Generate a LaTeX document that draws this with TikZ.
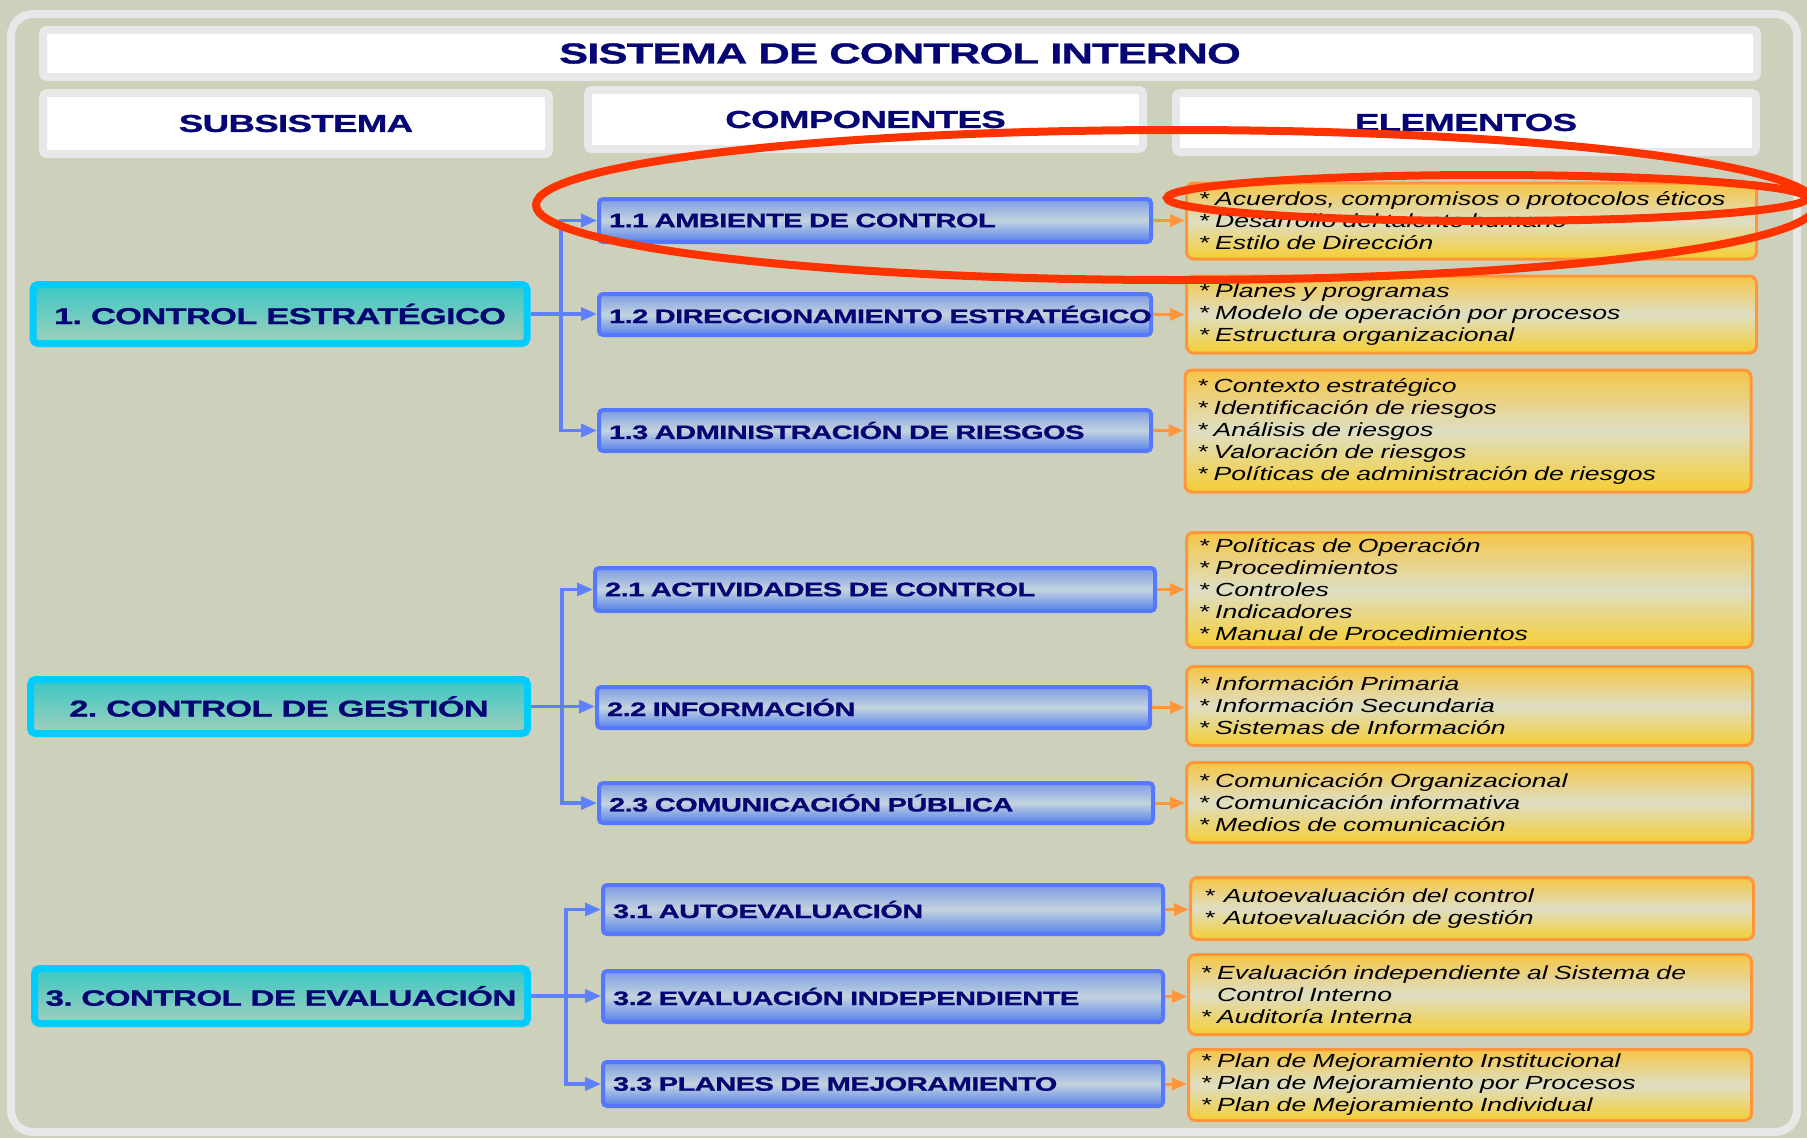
\documentclass[tikz,border=0pt]{standalone}
\usepackage{fontspec}
\setmainfont{Liberation Sans}
\newfontfamily\hdfont[FakeStretch=1.5, LetterSpace=-3, FakeBold=1]{Liberation Sans}
\newfontfamily\elfont[FakeStretch=1.4]{Liberation Sans}
\usetikzlibrary{arrows.meta}
\frenchspacing

\definecolor{bgolive}{RGB}{205,209,187}
\definecolor{framegrey}{RGB}{232,232,232}
\definecolor{navy}{RGB}{5,5,115}
\definecolor{subcyan}{RGB}{0,204,255}
\definecolor{subtop}{RGB}{58,200,196}
\definecolor{subbot}{RGB}{160,206,188}
\definecolor{compblue}{RGB}{85,120,255}
\definecolor{comptop}{RGB}{125,155,228}
\definecolor{compmid}{RGB}{195,212,222}
\definecolor{compbot}{RGB}{85,128,236}
\definecolor{elorange}{RGB}{255,150,60}
\definecolor{eltop}{RGB}{245,198,70}
\definecolor{elmid}{RGB}{222,222,196}
\definecolor{elbot}{RGB}{246,206,50}
\definecolor{linkblue}{RGB}{95,128,255}
\definecolor{ringred}{RGB}{255,51,0}

\begin{document}
\begin{tikzpicture}[x=1pt, y=-1pt,
    hdbox/.style={draw=framegrey, line width=8pt, fill=white, rounded corners=4pt, text=navy, inner sep=0pt, font=\hdfont\bfseries\fontsize{24.5}{30}\selectfont},
    subbox/.style={draw=subcyan, line width=7pt, rounded corners=5pt, top color=subtop, bottom color=subbot, text=navy, inner sep=0pt, font=\hdfont\bfseries\fontsize{23}{28}\selectfont},
    compbox/.style={draw=compblue, line width=4pt, rounded corners=4pt, top color=comptop, bottom color=compbot, middle color=compmid, text=navy, align=left, inner xsep=10pt, inner ysep=0pt, font=\hdfont\bfseries\fontsize{19.4}{22}\selectfont},
    elbox/.style={draw=elorange, line width=3pt, rounded corners=7pt, top color=eltop, bottom color=elbot, middle color=elmid, align=left, inner xsep=12pt, inner ysep=0pt, font=\elfont\itshape\fontsize{19}{22}\selectfont},
    barr/.style={draw=linkblue, line width=3.5pt, -{Triangle[length=16pt, width=13pt]}},
    oarr/.style={draw=elorange, line width=3pt, -{Triangle[length=15pt, width=12pt]}},
    redring/.style={draw=ringred, line width=8pt}
  ]
    \useasboundingbox (0,0) rectangle (1807,1138);
    \fill[bgolive] (0,0) rectangle (1807,1138);
    \draw[framegrey, line width=8pt, rounded corners=22pt] (11,14) rectangle (1797,1132);

    % headers
    \node[hdbox, minimum width=1714, minimum height=47, font=\hdfont\bfseries\fontsize{29}{34}\selectfont] (title) at (900,53.5) {SISTEMA DE CONTROL INTERNO};
    \node[hdbox, minimum width=506, minimum height=61] (hsub) at (296,123.5) {SUBSISTEMA};
    \node[hdbox, minimum width=555, minimum height=59] (hcomp) at (865.5,119.5) {COMPONENTES};
    \node[hdbox, minimum width=580, minimum height=59] (hel) at (1466,122.5) {ELEMENTOS};

    % subsistemas
    \node[subbox, minimum width=494, minimum height=59] (sub1) at (280,314) {1. CONTROL ESTRATÉGICO};
    \node[subbox, minimum width=497, minimum height=54] (sub2) at (279,706.5) {2. CONTROL DE GESTIÓN};
    \node[subbox, minimum width=493, minimum height=55, font=\hdfont\bfseries\fontsize{22.2}{28}\selectfont] (sub3) at (281,996) {3. CONTROL DE EVALUACIÓN};

    % componentes
    \node[compbox, text width=532, minimum height=43] (c11) at (875,220.5) {1.1 AMBIENTE DE CONTROL};
    \node[compbox, text width=532, minimum height=41] (c12) at (875,314.5) {\mbox{1.2 DIRECCIONAMIENTO ESTRATÉGICO}};
    \node[compbox, text width=532, minimum height=41] (c13) at (875,430.5) {1.3 ADMINISTRACIÓN DE RIESGOS};
    \node[compbox, text width=540, minimum height=43] (c21) at (875,589.5) {2.1 ACTIVIDADES DE CONTROL};
    \node[compbox, text width=533, minimum height=41] (c22) at (873.5,707.5) {2.2 INFORMACIÓN};
    \node[compbox, text width=534, minimum height=40] (c23) at (876,803) {2.3 COMUNICACIÓN PÚBLICA};
    \node[compbox, text width=540, minimum height=49] (c31) at (883,909.5) {3.1 AUTOEVALUACIÓN};
    \node[compbox, text width=540, minimum height=51] (c32) at (883,996.5) {3.2 EVALUACIÓN INDEPENDIENTE};
    \node[compbox, text width=540, minimum height=44] (c33) at (883,1084) {3.3 PLANES DE MEJORAMIENTO};

    % elementos
    \node[elbox, text width=546, minimum height=76] (e11) at (1471.5,221) {{*} Acuerdos, compromisos o protocolos éticos\\{*} Desarrollo del talento humano\\{*} Estilo de Dirección};
    \node[elbox, text width=546, minimum height=77] (e12) at (1471.5,314.5) {{*} Planes y programas\\{*} Modelo de operación por procesos\\{*} Estructura organizacional};
    \node[elbox, text width=542, minimum height=122] (e13) at (1468,431) {{*} Contexto estratégico\\{*} Identificación de riesgos\\{*} Análisis de riesgos\\{*} Valoración de riesgos\\{*} Políticas de administración de riesgos};
    \node[elbox, text width=542, minimum height=115] (e21) at (1469.5,590) {{*} Políticas de Operación\\{*} Procedimientos\\{*} Controles\\{*} Indicadores\\{*} Manual de Procedimientos};
    \node[elbox, text width=542, minimum height=79] (e22) at (1469.5,706) {{*} Información Primaria\\{*} Información Secundaria\\{*} Sistemas de Información};
    \node[elbox, text width=542, minimum height=80] (e23) at (1469.5,802.5) {{*} Comunicación Organizacional\\{*} Comunicación informativa\\{*} Medios de comunicación};
    \node[elbox, text width=536, inner xsep=13.5pt, minimum height=62] (e31) at (1472,908.5) {{*}\ \,Autoevaluación del control\\{*}\ \,Autoevaluación de gestión};
    \node[elbox, text width=539, minimum height=80] (e32) at (1470,994.5) {{*} Evaluación independiente al Sistema de\\\phantom{* }Control Interno\\{*} Auditoría Interna};
    \node[elbox, text width=539, minimum height=71] (e33) at (1470,1085) {{*} Plan de Mejoramiento Institucional\\{*} Plan de Mejoramiento por Procesos\\{*} Plan de Mejoramiento Individual};

    % subsistema -> componentes
    \coordinate (b1) at (561,314);
    \coordinate (b2) at (562,706.5);
    \coordinate (b3) at (566,996);
    \draw[barr] (sub1.east) -- (c12.west |- sub1.east);
    \draw[barr] (b1) |- (c11.west);
    \draw[barr] (b1) |- (c13.west);
    \draw[barr] (sub2.east) -- (c22.west |- sub2.east);
    \draw[barr] (b2) |- (c21.west);
    \draw[barr] (b2) |- (c23.west);
    \draw[barr] (sub3.east) -- (c32.west |- sub3.east);
    \draw[barr] (b3) |- (c31.west);
    \draw[barr] (b3) |- (c33.west);

    % componentes -> elementos
    \foreach \k in {11,12,13,21,22,23,31,32,33}
      \draw[oarr] (c\k.east) -- (c\k.east -| e\k.west);

    % marca roja
    \draw[redring] (1176,205) ellipse [x radius=640, y radius=75];
    \draw[redring] (1487,198) ellipse [x radius=320, y radius=23];
\end{tikzpicture}
\end{document}
